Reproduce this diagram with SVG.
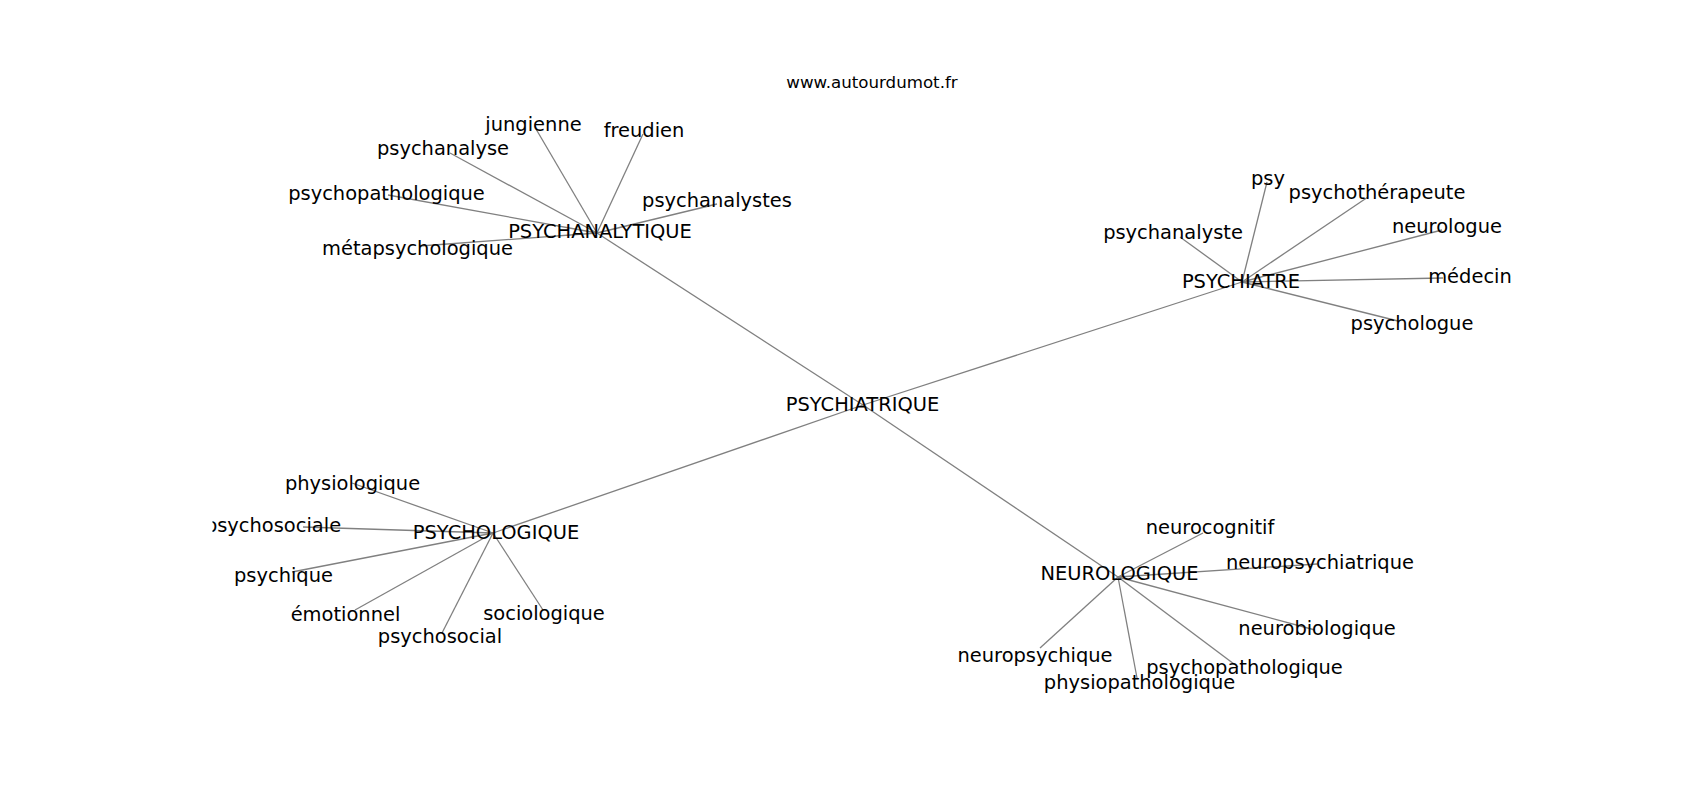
<svg xmlns="http://www.w3.org/2000/svg" width="1700" height="800" viewBox="0 0 1700 800">
<style>
.e{stroke:#808080;stroke-width:1.3;fill:none}
.t{font-family:"DejaVu Sans",sans-serif;font-size:19.44px;fill:#000;text-anchor:middle}
.title{font-family:"DejaVu Sans",sans-serif;font-size:16.67px;fill:#000;text-anchor:middle}
</style>
<defs>
<clipPath id="ax"><rect x="212.5" y="96" width="1317.5" height="616"/></clipPath>
</defs>
<rect width="1700" height="800" fill="#fff"/>
<text class="title" x="872" y="87.5">www.autourdumot.fr</text>
<g id="edges" clip-path="url(#ax)">
<line class="e" x1="863" y1="405" x2="597" y2="233"/>
<line class="e" x1="863" y1="405" x2="1242" y2="282"/>
<line class="e" x1="863" y1="405" x2="493" y2="533"/>
<line class="e" x1="863" y1="405" x2="1118" y2="577"/>
<line class="e" x1="597" y1="233" x2="536" y2="129"/>
<line class="e" x1="597" y1="233" x2="643" y2="134"/>
<line class="e" x1="597" y1="233" x2="450" y2="153"/>
<line class="e" x1="597" y1="233" x2="388" y2="195"/>
<line class="e" x1="597" y1="233" x2="420" y2="246"/>
<line class="e" x1="597" y1="233" x2="717" y2="204"/>
<line class="e" x1="1242" y1="282" x2="1267" y2="182"/>
<line class="e" x1="1242" y1="282" x2="1368" y2="197"/>
<line class="e" x1="1242" y1="282" x2="1180" y2="237"/>
<line class="e" x1="1242" y1="282" x2="1442" y2="230"/>
<line class="e" x1="1242" y1="282" x2="1443" y2="278"/>
<line class="e" x1="1242" y1="282" x2="1398" y2="321"/>
<line class="e" x1="493" y1="533" x2="352" y2="483"/>
<line class="e" x1="493" y1="533" x2="303" y2="527"/>
<line class="e" x1="493" y1="533" x2="292" y2="572"/>
<line class="e" x1="493" y1="533" x2="355" y2="610"/>
<line class="e" x1="493" y1="533" x2="442" y2="633"/>
<line class="e" x1="493" y1="533" x2="543" y2="610"/>
<line class="e" x1="1118" y1="577" x2="1203" y2="533"/>
<line class="e" x1="1118" y1="577" x2="1317" y2="564"/>
<line class="e" x1="1118" y1="577" x2="1315" y2="630"/>
<line class="e" x1="1118" y1="577" x2="1040" y2="648"/>
<line class="e" x1="1118" y1="577" x2="1238" y2="667"/>
<line class="e" x1="1118" y1="577" x2="1137" y2="678"/>
</g>
<g id="nodes" clip-path="url(#ax)">
<g id="n-psychiatrique"><text class="t" x="862.5" y="410.5">PSYCHIATRIQUE</text></g>
<g id="n-psychanalytique"><text class="t" x="600" y="238">PSYCHANALYTIQUE</text></g>
<g id="n-psychiatre"><text class="t" x="1241" y="288">PSYCHIATRE</text></g>
<g id="n-psychologique"><text class="t" x="496" y="539">PSYCHOLOGIQUE</text></g>
<g id="n-neurologique"><text class="t" x="1119.5" y="580">NEUROLOGIQUE</text></g>
<g id="n-jungienne"><text class="t" x="533.5" y="131">jungienne</text></g>
<g id="n-freudien"><text class="t" x="644" y="137">freudien</text></g>
<g id="n-psychanalyse"><text class="t" x="443" y="155">psychanalyse</text></g>
<g id="n-psychopathologique-1"><text class="t" x="386.5" y="200">psychopathologique</text></g>
<g id="n-metapsychologique"><text class="t" x="417.5" y="255">métapsychologique</text></g>
<g id="n-psychanalystes"><text class="t" x="717" y="207">psychanalystes</text></g>
<g id="n-psy"><text class="t" x="1268" y="185">psy</text></g>
<g id="n-psychotherapeute"><text class="t" x="1377" y="199">psychothérapeute</text></g>
<g id="n-psychanalyste"><text class="t" x="1173" y="239">psychanalyste</text></g>
<g id="n-neurologue"><text class="t" x="1447" y="233">neurologue</text></g>
<g id="n-medecin"><text class="t" x="1470" y="283">médecin</text></g>
<g id="n-psychologue"><text class="t" x="1412" y="330">psychologue</text></g>
<g id="n-physiologique"><text class="t" x="352.5" y="490">physiologique</text></g>
<g id="n-psychosociale"><text class="t" x="273" y="532">psychosociale</text></g>
<g id="n-psychique"><text class="t" x="283.5" y="582">psychique</text></g>
<g id="n-emotionnel"><text class="t" x="345.5" y="621">émotionnel</text></g>
<g id="n-psychosocial"><text class="t" x="440" y="643">psychosocial</text></g>
<g id="n-sociologique"><text class="t" x="544" y="620">sociologique</text></g>
<g id="n-neurocognitif"><text class="t" x="1210" y="534">neurocognitif</text></g>
<g id="n-neuropsychiatrique"><text class="t" x="1320" y="569">neuropsychiatrique</text></g>
<g id="n-neurobiologique"><text class="t" x="1317" y="635">neurobiologique</text></g>
<g id="n-neuropsychique"><text class="t" x="1035" y="662">neuropsychique</text></g>
<g id="n-psychopathologique-2"><text class="t" x="1244.5" y="674">psychopathologique</text></g>
<g id="n-physiopathologique"><text class="t" x="1139.5" y="689">physiopathologique</text></g>
</g>
</svg>
